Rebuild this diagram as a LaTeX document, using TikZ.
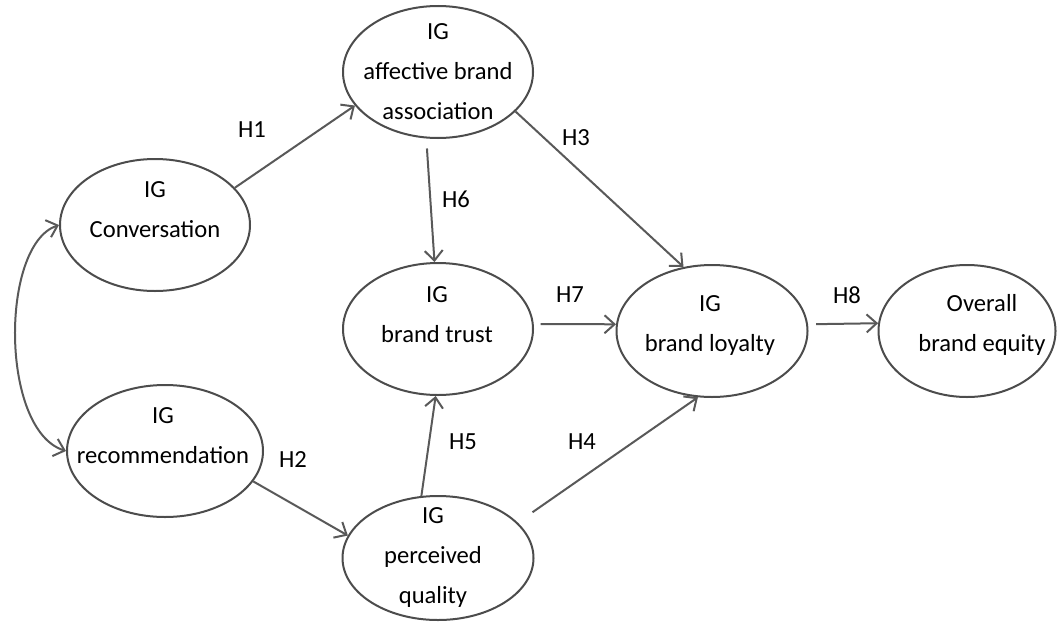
\documentclass[tikz,border=0pt]{standalone}
\usepackage{fontspec}
\setmainfont{Carlito}
\usepackage{tikz}
\usetikzlibrary{arrows.meta, shapes.geometric}

\tikzset{
  construct/.style={ellipse, draw=black!70, line width=1pt, inner sep=0pt,
    minimum width=95pt, minimum height=66pt},
  caption/.style={align=center, font=\fontsize{12.3}{20}\selectfont},
  hyp/.style={font=\fontsize{12.3}{14}\selectfont},
  link/.style={draw=black!65, line width=1pt, -{Straight Barb[length=5pt,width=9pt]}},
}

\begin{document}
\begin{tikzpicture}[x=0.5pt, y=-0.5pt]
  \useasboundingbox (0,0) rectangle (1059,621);

  % Ellipses
  \node[construct] (aff) at (438,72) {};
  \node[construct] (conv) at (155,225) {};
  \node[construct, minimum width=98pt] (rec) at (165,451) {};
  \node[construct] (trust) at (438,329) {};
  \node[construct, minimum width=95.5pt, minimum height=62pt] (qual) at (438,558) {};
  \node[construct, minimum width=95.5pt] (loyal) at (712,331) {};
  \node[construct, minimum width=88.5pt] (equity) at (967,331) {};

  % Texts
  \node[caption] at (438,72) {IG\\affective brand\\association};
  \node[caption] at (155,210) {IG\\Conversation};
  \node[caption] at (163,436) {IG\\recommendation};
  \node[caption] at (437,315) {IG\\brand trust};
  \node[caption] at (433,557) {IG\\perceived\\quality};
  \node[caption] at (710,325) {IG\\brand loyalty};
  \node[caption] at (982,325) {Overall\\brand equity};

  % Paths
  \draw[link] (conv.25) -- (aff.202);
  \draw[link] (rec.-19) -- (qual.166);
  \draw[link] (aff.-27) -- (loyal.114);
  \draw[link, shorten <=9pt] (qual.24) -- (loyal.258);
  \draw[link] (qual.105) -- (trust.268);
  \draw[link, shorten <=5pt] (aff.260) -- (trust.93);
  \draw[link, shorten <=3.5pt] (trust.3) -- (loyal.176);
  \draw[link, shorten <=4pt] (loyal.4) -- (equity.175);
  \draw[draw=black!65, line width=1pt, {Straight Barb[length=5pt,width=9pt]}-{Straight Barb[length=5pt,width=9pt]}]
    (conv.west) .. controls (0,245) and (0,430) .. (rec.west);

  % Labels
  \node[hyp] at (252,130) {H1};
  \node[hyp] at (293,460) {H2};
  \node[hyp] at (576,138) {H3};
  \node[hyp] at (582,442) {H4};
  \node[hyp] at (463,442) {H5};
  \node[hyp] at (456,199) {H6};
  \node[hyp] at (570,295) {H7};
  \node[hyp] at (847,295) {H8};
\end{tikzpicture}
\end{document}
